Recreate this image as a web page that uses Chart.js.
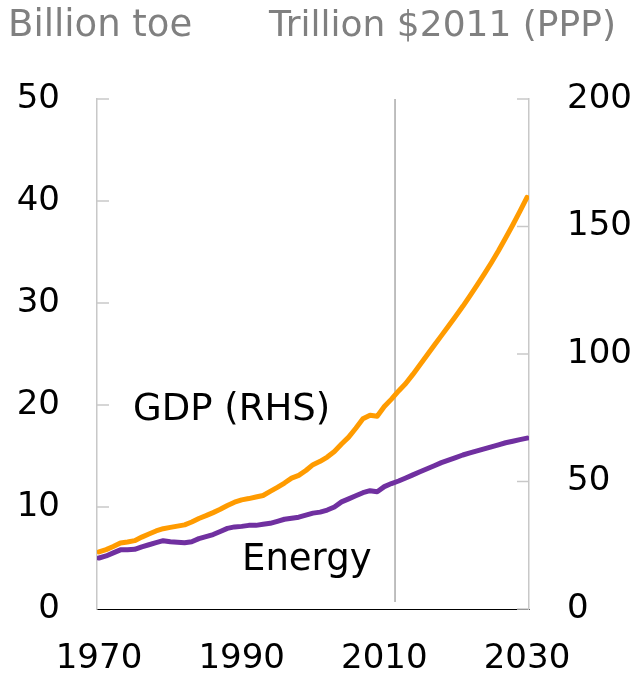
<!DOCTYPE html>
<html>
<head>
<meta charset="utf-8">
<script src="https://cdn.jsdelivr.net/npm/chart.js@4.4.0/dist/chart.umd.min.js"></script>
<style>
    html, body { margin: 0; padding: 0; background: #fff; }
    #wrap { width: 635px; height: 679px; }
</style>
</head>
<body>
<div id="wrap"><canvas id="energyChart" width="635" height="679"></canvas></div>
<script>
// Years on the x axis
const years = [
    1970, 1971, 1972, 1973, 1974, 1975, 1976, 1977, 1978, 1979,
    1980, 1981, 1982, 1983, 1984, 1985, 1986, 1987, 1988, 1989,
    1990, 1991, 1992, 1993, 1994, 1995, 1996, 1997, 1998, 1999,
    2000, 2001, 2002, 2003, 2004, 2005, 2006, 2007, 2008, 2009,
    2010, 2011, 2012, 2013, 2014, 2015, 2016, 2017, 2018, 2019,
    2020, 2021, 2022, 2023, 2024, 2025, 2026, 2027, 2028, 2029,
    2030
];

// Energy, billion toe (left axis)
const energy = [
    5.0, 5.2, 5.5, 5.8, 5.8, 5.85, 6.1, 6.3, 6.5, 6.7,
    6.6, 6.55, 6.5, 6.6, 6.9, 7.1, 7.3, 7.6, 7.9, 8.05,
    8.1, 8.2, 8.2, 8.3, 8.4, 8.6, 8.8, 8.9, 9.0, 9.2,
    9.4, 9.5, 9.7, 10.0, 10.5, 10.8, 11.1, 11.4, 11.6, 11.5,
    12.0, 12.3, 12.55, 12.85, 13.15, 13.45, 13.75, 14.05, 14.35, 14.6,
    14.85, 15.1, 15.3, 15.5, 15.7, 15.9, 16.1, 16.3, 16.45, 16.6,
    16.75
];

// GDP, trillion $2011 PPP (right axis)
const gdp = [
    22.4, 23.3, 24.5, 25.9, 26.3, 26.8, 28.2, 29.4, 30.6, 31.5,
    32.0, 32.5, 33.0, 34.1, 35.5, 36.6, 37.8, 39.1, 40.6, 41.9,
    42.8, 43.3, 43.9, 44.5, 46.1, 47.7, 49.4, 51.3, 52.4, 54.3,
    56.6, 57.9, 59.6, 61.8, 64.7, 67.4, 70.9, 74.6, 76.0, 75.6,
    79.4, 82.3, 85.5, 88.4, 92.0, 95.8, 99.6, 103.4, 107.2, 111.0,
    114.8, 118.7, 122.8, 127.0, 131.3, 135.8, 140.5, 145.5, 150.6, 155.9,
    161.4
];

const xTicks = [1970, 1990, 2010, 2030];
const leftTicks = [0, 10, 20, 30, 40, 50];
const rightTicks = [0, 50, 100, 150, 200];
const projectionStart = 2011.5;

const FONT = "'DejaVu Sans', sans-serif";

// Extra drawing: inward tick marks, projection divider, titles, labels
const decorations = {
    id: 'decorations',
    beforeDatasetsDraw(chart) {
        const ctx = chart.ctx;
        const x = chart.scales.x.getPixelForValue(projectionStart);
        ctx.save();
        ctx.strokeStyle = '#aaaaaa';
        ctx.lineWidth = 1.5;
        ctx.beginPath();
        ctx.moveTo(x, chart.chartArea.top);
        ctx.lineTo(x, chart.chartArea.bottom - 7);
        ctx.stroke();
        ctx.restore();
    },
    afterDraw(chart) {
        const ctx = chart.ctx;
        const area = chart.chartArea;
        const yL = chart.scales.y;
        const yR = chart.scales.y2;
        ctx.save();
        ctx.strokeStyle = '#c8c8c8';
        ctx.lineWidth = 1.5;
        leftTicks.forEach(v => {
            const py = yL.getPixelForValue(v);
            if (v === 0) return;
            ctx.beginPath();
            ctx.moveTo(area.left, py);
            ctx.lineTo(area.left + 12, py);
            ctx.stroke();
        });
        rightTicks.forEach(v => {
            const py = yR.getPixelForValue(v);
            ctx.beginPath();
            ctx.moveTo(area.right, py);
            ctx.lineTo(area.right - 12, py);
            ctx.stroke();
        });

        ctx.fillStyle = '#808080';
        ctx.textBaseline = 'alphabetic';
        ctx.textAlign = 'left';
        ctx.font = '37px ' + FONT;
        ctx.fillText('Billion toe', 8, 36);
        ctx.font = '36px ' + FONT;
        ctx.textAlign = 'right';
        ctx.fillText('Trillion $2011 (PPP)', 616, 36);

        ctx.fillStyle = '#000000';
        ctx.textAlign = 'left';
        ctx.font = '37px ' + FONT;
        ctx.fillText('GDP (RHS)', 133, 420);
        ctx.fillText('Energy', 242, 570);
        ctx.restore();
    }
};

const ctx = document.getElementById('energyChart').getContext('2d');
new Chart(ctx, {
    type: 'line',
    data: {
        datasets: [{
            label: 'Energy',
            data: years.map((yr, i) => ({ x: yr, y: energy[i] })),
            borderColor: '#7030a0',
            borderWidth: 5,
            yAxisID: 'y'
        }, {
            label: 'GDP (RHS)',
            data: years.map((yr, i) => ({ x: yr, y: gdp[i] })),
            borderColor: '#ff9b00',
            borderWidth: 5,
            yAxisID: 'y2'
        }]
    },
    options: {
        responsive: false,
        animation: false,
        devicePixelRatio: 1,
        layout: {
            padding: { top: 99, left: 0, right: 0, bottom: 0 }
        },
        elements: {
            point: { radius: 0 },
            line: {
                tension: 0,
                borderJoinStyle: 'round',
                borderCapStyle: 'round'
            }
        },
        scales: {
            x: {
                type: 'linear',
                min: 1969.72,
                max: 2030.28,
                afterBuildTicks: function(scale) {
                    scale.ticks = xTicks.map(v => ({ value: v }));
                },
                afterFit: function(scale) {
                    scale.height = 70;
                },
                grid: { display: false, drawTicks: false },
                border: { display: true, color: '#000000', width: 1 },
                ticks: {
                    color: '#000000',
                    padding: 30,
                    maxRotation: 0,
                    font: { family: FONT, size: 34 },
                    callback: function(value) { return String(value); }
                }
            },
            y: {
                position: 'left',
                min: 0,
                max: 50,
                afterBuildTicks: function(scale) {
                    scale.ticks = leftTicks.map(v => ({ value: v }));
                },
                afterFit: function(scale) {
                    scale.width = 97;
                },
                grid: { display: false, drawTicks: false },
                border: { display: true, color: '#c8c8c8', width: 1.5 },
                ticks: {
                    color: '#000000',
                    padding: 37,
                    font: { family: FONT, size: 34 }
                }
            },
            y2: {
                position: 'right',
                min: 0,
                max: 200,
                afterBuildTicks: function(scale) {
                    scale.ticks = rightTicks.map(v => ({ value: v }));
                },
                afterFit: function(scale) {
                    scale.width = 106;
                },
                grid: { display: false, drawTicks: false },
                border: { display: true, color: '#c8c8c8', width: 1.5 },
                ticks: {
                    color: '#000000',
                    padding: 38,
                    font: { family: FONT, size: 34 }
                }
            }
        },
        plugins: {
            legend: { display: false },
            tooltip: { enabled: false }
        }
    },
    plugins: [decorations]
});
</script>
</body>
</html>
